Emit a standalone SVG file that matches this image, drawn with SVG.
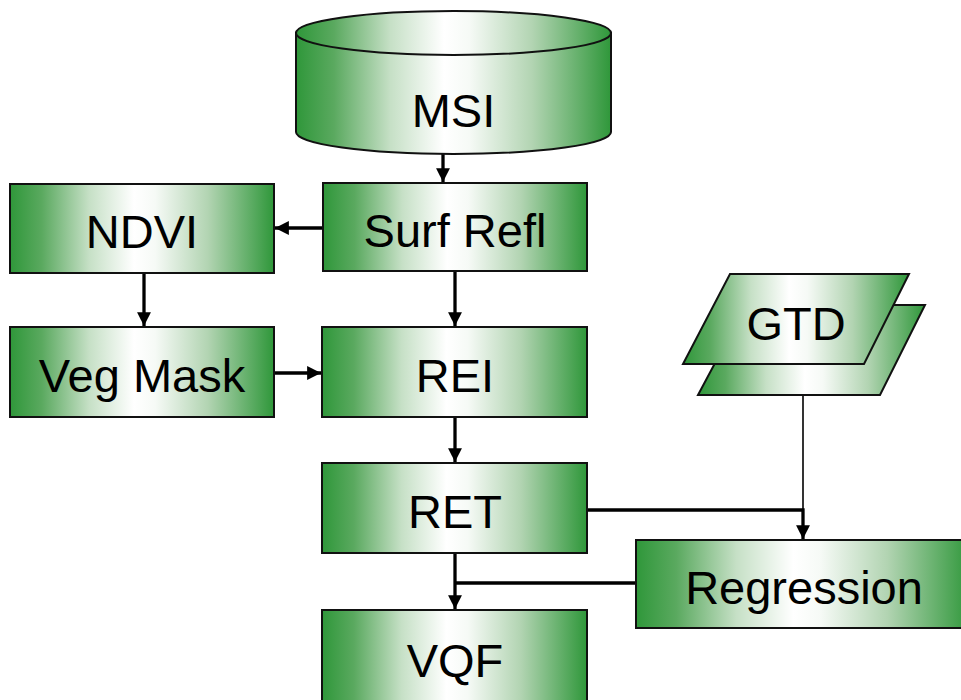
<svg xmlns="http://www.w3.org/2000/svg" width="961" height="700" viewBox="0 0 961 700">
<defs>
<linearGradient id="g" x1="0" y1="0" x2="1" y2="0">
<stop offset="0" stop-color="#2f973a"/>
<stop offset="0.12" stop-color="#5aa95f"/>
<stop offset="0.3" stop-color="#c6e0c6"/>
<stop offset="0.47" stop-color="#ffffff"/>
<stop offset="0.55" stop-color="#f6faf6"/>
<stop offset="0.75" stop-color="#b2d4b2"/>
<stop offset="1" stop-color="#2f973a"/>
</linearGradient>
<marker id="ah" viewBox="0 0 10 10" refX="10" refY="5" markerWidth="4.2" markerHeight="4.2" markerUnits="strokeWidth" orient="auto">
<path d="M0,0 L10,5 L0,10 Z" fill="#000"/>
</marker>
</defs>
<style>
.box{fill:url(#g);stroke:#111;stroke-width:2}
.lbl{font-family:"Liberation Sans",Arial,sans-serif;font-size:47px;fill:#000;text-anchor:middle}
.c{fill:none;stroke:#000;stroke-width:3.3}
.thin{fill:none;stroke:#000;stroke-width:1.6}
</style>
<rect width="961" height="700" fill="#fff"/>
<g id="connectors">
<path class="c" d="M443,154 V182" marker-end="url(#ah)"/>
<path class="c" d="M323,228 H275" marker-end="url(#ah)"/>
<path class="c" d="M144,273 V326" marker-end="url(#ah)"/>
<path class="c" d="M274,373 H321" marker-end="url(#ah)"/>
<path class="c" d="M455,271 V326" marker-end="url(#ah)"/>
<path class="c" d="M455,418 V462" marker-end="url(#ah)"/>
<path class="thin" d="M803,395 V510"/>
<path class="c" d="M587,510 H803 V539" marker-end="url(#ah)"/>
<path class="c" d="M636,583 H455"/>
<path class="c" d="M455,553 V609" marker-end="url(#ah)"/>
</g>
<g id="msi">
<path class="box" d="M296,33 V132 A157.5,22 0 0 0 611,132 V33 Z"/>
<ellipse class="box" cx="453.5" cy="33" rx="157.5" ry="22"/>
<text class="lbl" x="453.5" y="127">MSI</text>
</g>
<g id="surfrefl">
<rect class="box" x="323" y="183" width="264" height="88"/>
<text class="lbl" x="455" y="247">Surf Refl</text>
</g>
<g id="ndvi">
<rect class="box" x="10" y="184" width="264" height="89"/>
<text class="lbl" x="142" y="248">NDVI</text>
</g>
<g id="vegmask">
<rect class="box" x="10" y="327" width="264" height="90"/>
<text class="lbl" x="142" y="392">Veg Mask</text>
</g>
<g id="rei">
<rect class="box" x="322" y="327" width="265" height="90"/>
<text class="lbl" x="455" y="392">REI</text>
</g>
<g id="ret">
<rect class="box" x="322" y="463" width="265" height="90"/>
<text class="lbl" x="455" y="528">RET</text>
</g>
<g id="vqf">
<rect class="box" x="322" y="610" width="265" height="100"/>
<text class="lbl" x="455" y="677">VQF</text>
</g>
<g id="regression">
<rect class="box" x="636" y="540" width="335" height="88"/>
<text class="lbl" x="804" y="604">Regression</text>
</g>
<g id="gtd">
<path class="box" d="M746,305 H925 L880,395 H698 Z"/>
<path class="box" d="M730,274 H909 L864,364 H683 Z"/>
<text class="lbl" x="796" y="340">GTD</text>
</g>
</svg>
